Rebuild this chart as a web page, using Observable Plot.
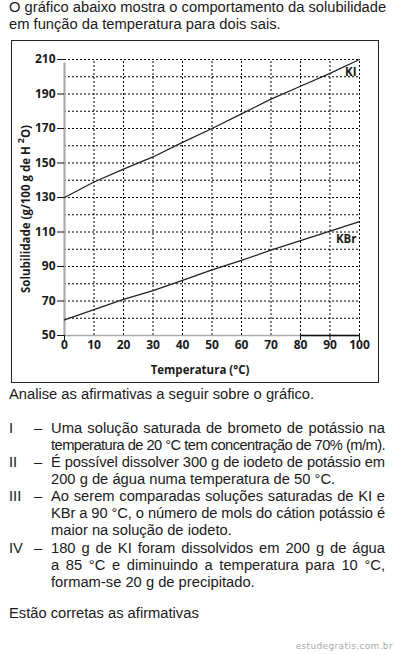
<!DOCTYPE html>
<html><head><meta charset="utf-8">
<script src="https://cdn.jsdelivr.net/npm/d3@7"></script>
<script src="https://cdn.jsdelivr.net/npm/@observablehq/plot@0.6"></script>
<style>
body{margin:0;background:#fff;width:396px;height:655px;position:relative;overflow:hidden;font-family:Arial,"Liberation Sans",Helvetica,sans-serif;color:#1a1a1a;}
.t{position:absolute;font-size:14.7px;line-height:17px;white-space:nowrap}
#box{position:absolute;left:11px;top:40px;width:366px;height:341px;border:1px solid #222;}
#box svg{display:block}
.wm{position:absolute;right:3px;top:640px;font-size:9px;line-height:12px;letter-spacing:0.35px;color:#aaa;font-family:"DejaVu Sans",sans-serif}
</style></head>
<body>
<div id="box"></div>
<div id="txt"></div>
<div class="wm">estudegratis.com.br</div>
<script>
// ---- data ----
const temps = [0, 10, 20, 30, 40, 50, 60, 70, 80, 90, 100];
const kiValues = [130, 139, 146.5, 153.5, 162, 170, 178.5, 187, 194.5, 202, 210];
const kbrValues = [59, 65, 71, 76, 82, 88, 93.5, 99.5, 105, 110.5, 116];
const seriesNames = ["KI", "KBr"];
const seriesLabelX = [99, 99];
const seriesLabelY = [202.5, 106];
const xTicks = [0, 10, 20, 30, 40, 50, 60, 70, 80, 90, 100];
const yTicks = [50, 70, 90, 110, 130, 150, 170, 190, 210];
const gridX = [10, 20, 30, 40, 50, 60, 70, 80, 90, 100];
const gridY = [60, 70, 80, 90, 100, 110, 120, 130, 140, 150, 160, 170, 180, 190, 200, 210];
const darkAxisTicks = [0, 80, 90, 100];
const darkAxisFrom = 80;

const kiData = temps.map((t, i) => ({t, s: kiValues[i]}));
const kbrData = temps.map((t, i) => ({t, s: kbrValues[i]}));
const labelData = seriesNames.map((n, i) => ({n, x: seriesLabelX[i], y: seriesLabelY[i]}));

const chart = Plot.plot({
  width: 366, height: 341,
  marginLeft: 52, marginRight: 19, marginTop: 18, marginBottom: 47,
  x: {domain: [0, 100]},
  y: {domain: [50, 210]},
  style: {fontFamily: "'Open Sans', sans-serif", fontSize: "12px", fontWeight: "bold", color: "#1a1a1a", background: "#fff"},
  marks: [
    Plot.ruleX(gridX, {y1: 50, y2: 210, stroke: "#000", strokeDasharray: "2,2", strokeWidth: 1}),
    Plot.ruleY(gridY, {x1: 0, x2: 100, stroke: "#000", strokeDasharray: "2,2", strokeWidth: 1}),
    Plot.ruleX([0], {y1: 50, y2: 208, stroke: "#aaa", strokeWidth: 2.2}),
    Plot.ruleY([50], {x1: 0, x2: 100, stroke: "#aaa", strokeWidth: 1.6}),
    Plot.ruleY([50], {x1: darkAxisFrom, x2: 100, stroke: "#111", strokeWidth: 1.4}),
    Plot.axisY(yTicks, {tickSize: 7, tickPadding: 2, label: null, stroke: "#111"}),
    Plot.axisX(xTicks, {tickSize: 0, tickPadding: 5, label: null}),
    Plot.axisX(darkAxisTicks, {tickSize: 5, tickFormat: () => "", label: null, stroke: "#111"}),
    Plot.line(kiData, {x: "t", y: "s", stroke: "#222", strokeWidth: 1.3}),
    Plot.line(kbrData, {x: "t", y: "s", stroke: "#222", strokeWidth: 1.3}),
    Plot.text(labelData, {x: "x", y: "y", text: "n", textAnchor: "end", fontSize: 11.5, fontWeight: "bold", fill: "#1a1a1a"})
  ]
});
document.getElementById("box").appendChild(chart);
const svg = d3.select(chart);
const yl = svg.append("text")
  .attr("transform", "translate(18,168) rotate(-90)")
  .attr("text-anchor", "middle")
  .attr("font-size", 11.5).attr("font-weight", "bold").attr("fill", "#1a1a1a");
yl.append("tspan").text("Solubilidade (g/100 g de H ");
yl.append("tspan").attr("dy", -6).attr("font-size", 9).text("2");
yl.append("tspan").attr("dy", 6).text("O)");
svg.append("text")
  .attr("x", 188).attr("y", 333)
  .attr("text-anchor", "middle")
  .attr("font-size", 11.5).attr("font-weight", "bold").attr("fill", "#1a1a1a")
  .text("Temperatura (°C)");

// ---- text ----
const lines = [
  {b: 13, x: 9, w: 0, s: "O gráfico abaixo mostra o comportamento da solubilidade"},
  {b: 30, x: 9, w: 0, s: "em função da temperatura para dois sais."},
  {b: 400, x: 9, w: 0, s: "Analise as afirmativas a seguir sobre o gráfico."},
  {b: 434, x: 9, w: 0, s: "I"}, {b: 434, x: 34, w: 0, s: "–"},
  {b: 434, x: 51, w: 334, s: "Uma solução saturada de brometo de potássio na"},
  {b: 451, x: 51, w: 334, s: "temperatura de 20 °C tem concentração de 70% (m/m)."},
  {b: 468, x: 9, w: 0, s: "II"}, {b: 468, x: 34, w: 0, s: "–"},
  {b: 468, x: 51, w: 334, s: "É possível dissolver 300 g de iodeto de potássio em"},
  {b: 485, x: 51, w: 0, s: "200 g de água numa temperatura de 50 °C."},
  {b: 502, x: 9, w: 0, s: "III"}, {b: 502, x: 34, w: 0, s: "–"},
  {b: 502, x: 51, w: 334, s: "Ao serem comparadas soluções saturadas de KI e"},
  {b: 519, x: 51, w: 334, s: "KBr a 90 °C, o número de mols do cátion potássio é"},
  {b: 536, x: 51, w: 0, s: "maior na solução de iodeto."},
  {b: 554, x: 9, w: 0, s: "IV"}, {b: 554, x: 34, w: 0, s: "–"},
  {b: 554, x: 51, w: 334, s: "180 g de KI foram dissolvidos em 200 g de água"},
  {b: 571, x: 51, w: 334, s: "a 85 °C e diminuindo a temperatura para 10 °C,"},
  {b: 588, x: 51, w: 0, s: "formam-se 20 g de precipitado."},
  {b: 619, x: 9, w: 0, s: "Estão corretas as afirmativas"}
];
const txt = document.getElementById("txt");
const els = [];
for (const l of lines) {
  const d = document.createElement("div");
  d.className = "t";
  d.style.left = l.x + "px";
  if (l.w) { d.style.width = l.w + "px"; d.style.textAlign = "justify"; d.style.textAlignLast = "justify"; }
  d.textContent = l.s;
  txt.appendChild(d);
  els.push([d, l]);
}
// fit font size so the first title line spans the same width as in the reference (377px)
const first = els[0][0];
const w = first.getBoundingClientRect().width;
const fs = Math.min(16, Math.max(13, 14.7 * 377 / w));
for (const [d, l] of els) {
  d.style.fontSize = fs + "px";
  d.style.top = (l.b - 0.92 * fs - (17 - 1.15 * fs) / 2) + "px";
  if (l.w && d.scrollWidth > l.w) d.style.letterSpacing = ((l.w - d.scrollWidth) / l.s.length) + "px";
}
</script>
</body></html>
